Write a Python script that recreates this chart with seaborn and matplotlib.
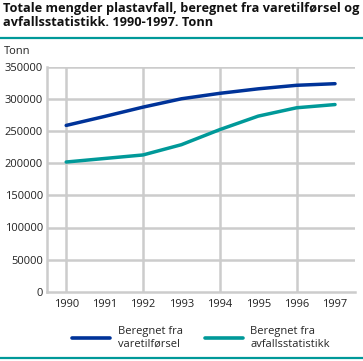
import pandas as pd
import seaborn as sns
import matplotlib.pyplot as plt
from matplotlib.lines import Line2D

# Data
years = [1990, 1991, 1992, 1993, 1994, 1995, 1996, 1997]
varetilforsel = [259000, 273000, 287500, 300500, 309000, 316000, 321500, 324000]
avfallsstatistikk = [202000, 207500, 213000, 229000, 252500, 273500, 286500, 291500]
series_names = ['Beregnet fra\nvaretilførsel', 'Beregnet fra\navfallsstatistikk']
colors = ['#003399', '#009999']
title = 'Totale mengder plastavfall, beregnet fra varetilførsel og\navfallsstatistikk. 1990-1997. Tonn'

df = pd.DataFrame({
    'year': years * 2,
    'value': varetilforsel + avfallsstatistikk,
    'series': [series_names[0]] * len(years) + [series_names[1]] * len(years),
})

sns.set_theme(style='white')
plt.rcParams['font.family'] = ['Open Sans', 'DejaVu Sans']

grid_col = '#cccccc'
fig = plt.figure(figsize=(3.63, 3.61), dpi=100)
ax = fig.add_axes([47 / 363, 1 - 291.7 / 361, 308 / 363, 224.7 / 361])

sns.lineplot(data=df, x='year', y='value', hue='series', palette=colors,
             linewidth=2.5, ax=ax, legend=False)

ax.set_xlim(1989.5, 1997.52)
ax.set_ylim(0, 350000)
ax.set_yticks(range(0, 350001, 50000))
ax.set_yticklabels([str(v) for v in range(0, 350001, 50000)])
ax.set_xticks(years)
ax.set_xticklabels([str(y) for y in years])
ax.set_xlabel('')
ax.set_ylabel('')

# gridlines: horizontal at every tick, vertical only at even years
ax.grid(False)
for v in range(50000, 350001, 50000):
    ax.axhline(v, color=grid_col, lw=1.8, zorder=0)
for y in years[::2]:
    ax.axvline(y, color=grid_col, lw=1.8, zorder=0)

for s in ['top', 'right']:
    ax.spines[s].set_visible(False)
for s in ['left', 'bottom']:
    ax.spines[s].set_color(grid_col)
    ax.spines[s].set_linewidth(1.8)

ax.tick_params(axis='y', length=0, pad=3, labelsize=8, colors='#222222')
ax.tick_params(axis='x', length=3, width=1, direction='in', color=grid_col,
               pad=5, labelsize=8, labelcolor='#222222')

# header and footer
fig.text(3 / 363, 1 - 2 / 361, title, ha='left', va='top', fontsize=9.2,
         fontweight='bold', color='#111111', linespacing=1.05)
fig.text(4 / 363, 1 - 52 / 361, 'Tonn', ha='left', va='center', fontsize=8,
         color='#222222')
fig.add_artist(Line2D([0, 1], [1 - 37.5 / 361] * 2, color='#009999', lw=1.6))
fig.add_artist(Line2D([0, 1], [1 - 357.5 / 361] * 2, color='#009999', lw=1.6))

handles = [Line2D([], [], color=c, lw=2.6) for c in colors]
fig.legend(handles, series_names, loc='upper center', ncol=2,
           bbox_to_anchor=(0.554, 1 - 316 / 361), frameon=False, fontsize=8,
           handlelength=3.4, handletextpad=0.7, columnspacing=2.0,
           labelspacing=0.2)

fig.savefig('out.png', dpi=100)
